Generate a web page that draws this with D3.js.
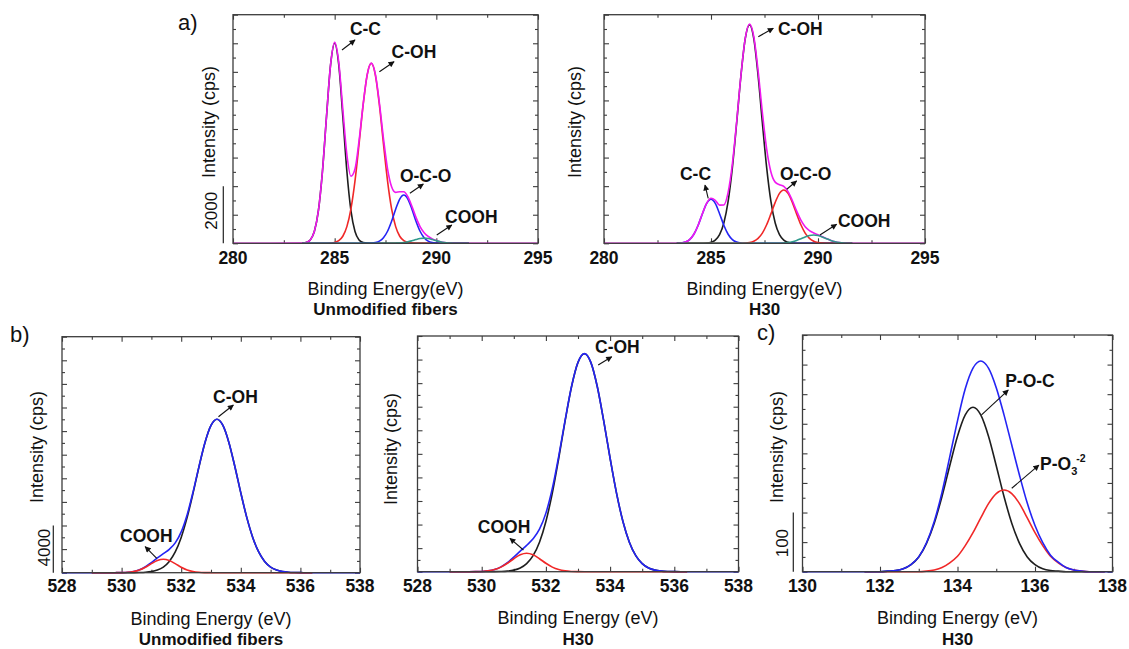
<!DOCTYPE html>
<html><head><meta charset="utf-8">
<script src="https://cdn.jsdelivr.net/npm/d3@7"></script>
<style>
body{margin:0;background:#fff}
svg{display:block}
text{font-family:"Liberation Sans",Arial,Helvetica,sans-serif;fill:#111}
</style>
</head><body>
<svg id="chart" width="1129" height="649"></svg>
<script>
// ---------------- DATA ----------------
// C1s, energy grid (eV)
const c1sEnergy = [283.4,283.6,283.8,284.0,284.2,284.4,284.6,284.8,285.0,285.2,285.4,285.6,285.8,286.0,286.2,286.4,286.6,286.8,287.0,287.2,287.4,287.6,287.8,288.0,288.2,288.4,288.6,288.8,289.0,289.2,289.4,289.6,289.8,290.0,290.2,290.4,290.6,290.8,291.0,291.2,291.4,291.6];
// C1s, unmodified fibers (cps)
const unmodC1sCC   = [5,27,118,412,1141,2523,4448,6250,7000,6250,4448,2523,1141,412,118,27,5,0,0,0,0,0,0,0,0,0,0,0,0,0,0,0,0,0,0,0,0,0,0,0,0,0];
const unmodC1sCOH  = [0,0,0,0,0,0,2,9,30,92,247,584,1206,2187,3475,4836,5897,6300,5897,4836,3475,2187,1206,584,247,92,30,9,2,0,0,0,0,0,0,0,0,0,0,0,0,0];
const unmodC1sOCO  = [0,0,0,0,0,0,0,0,0,0,0,0,0,0,0,0,1,7,24,74,193,421,774,1194,1549,1690,1549,1194,774,421,193,74,24,7,1,0,0,0,0,0,0,0];
const unmodC1sCOOH = [0,0,0,0,0,0,0,0,0,0,0,0,0,0,0,0,0,0,0,0,0,0,1,4,10,24,50,88,131,166,180,166,131,88,50,24,10,4,1,0,0,0];
const unmodC1sEnv  = [5,27,118,412,1141,2523,4450,6259,7030,6342,4695,3107,2347,2599,3593,4863,5903,6307,5921,4910,3668,2608,1981,1782,1806,1806,1629,1291,907,587,373,240,155,95,51,24,10,4,1,0,0,0];
// C1s, H30 (cps)
const h30C1sCC   = [3,12,44,130,317,633,1037,1395,1540,1395,1037,633,317,130,44,12,3,0,0,0,0,0,0,0,0,0,0,0,0,0,0,0,0,0,0,0,0,0,0,0,0,0];
const h30C1sCOH  = [0,0,0,0,0,0,3,10,36,111,300,708,1465,2656,4220,5872,7160,7650,7160,5872,4220,2656,1465,708,300,111,36,10,3,0,0,0,0,0,0,0,0,0,0,0,0,0];
const h30C1sOCO  = [0,0,0,0,0,0,0,0,0,0,0,0,0,0,0,3,9,27,73,173,357,648,1029,1432,1747,1866,1747,1432,1029,648,357,173,73,27,9,3,0,0,0,0,0,0];
const h30C1sCOOH = [0,0,0,0,0,0,0,0,0,0,0,0,0,0,0,0,0,0,0,0,0,0,0,1,4,11,27,56,101,160,223,271,290,271,223,160,101,56,27,11,4,1];
const h30C1sEnv  = [3,12,44,130,317,633,1040,1405,1576,1506,1337,1341,1782,2786,4264,5887,7172,7677,7233,6045,4577,3304,2494,2141,2051,1988,1810,1498,1133,808,580,444,363,298,232,163,101,56,27,11,4,1];

// O1s, energy grid (eV)
const o1sEnergy = [529.0,529.2,529.4,529.6,529.8,530.0,530.2,530.4,530.6,530.8,531.0,531.2,531.4,531.6,531.8,532.0,532.2,532.4,532.6,532.8,533.0,533.2,533.4,533.6,533.8,534.0,534.2,534.4,534.6,534.8,535.0,535.2,535.4,535.6,535.8,536.0,536.2,536.4];
const unmodO1sCOH  = [0,0,0,0,0,0,1,4,13,36,93,220,477,954,1759,2991,4685,6765,9004,11041,12480,13000,12480,11041,9004,6765,4685,2991,1759,954,477,220,93,36,13,4,1,0];
const unmodO1sCOOH = [0,0,0,0,2,9,32,96,234,467,765,1028,1135,1028,765,467,234,96,32,9,2,0,0,0,0,0,0,0,0,0,0,0,0,0,0,0,0,0];
const unmodO1sEnv  = [0,0,0,0,2,9,33,100,247,503,858,1248,1612,1982,2524,3458,4919,6861,9036,11050,12482,13000,12480,11041,9004,6765,4685,2991,1759,954,477,220,93,36,13,4,1,0];
const h30O1sCOH  = [0,0,0,0,0,0,2,6,19,52,132,313,679,1358,2503,4257,6667,9627,12813,15712,17760,18500,17760,15712,12813,9627,6667,4257,2503,1358,679,313,132,52,19,6,2,0];
const h30O1sCOOH = [0,0,0,1,6,22,68,178,389,714,1102,1430,1560,1430,1102,714,389,178,68,22,6,1,0,0,0,0,0,0,0,0,0,0,0,0,0,0,0,0];
const h30O1sEnv  = [0,0,0,1,6,22,70,184,408,766,1234,1743,2239,2788,3605,4971,7056,9805,12881,15734,17766,18501,17760,15712,12813,9627,6667,4257,2503,1358,679,313,132,52,19,6,2,0];

// P2p, H30
const p2pEnergy = [131.6,131.8,132.0,132.2,132.4,132.6,132.8,133.0,133.2,133.4,133.6,133.8,134.0,134.2,134.4,134.6,134.8,135.0,135.2,135.4,135.6,135.8,136.0,136.2,136.4,136.6,136.8,137.0,137.2,137.4,137.6,137.8];
const h30P2pPOC = [0,0,0,1,2,5,12,25,48,82,127,179,229,265,278,265,229,179,127,82,48,25,12,5,2,1,0,0,0,0,0,0];
const h30P2pPO3 = [0,0,0,0,0,0,0,0,1,3,7,15,26,44,66,91,115,132,138,132,115,91,66,44,26,15,7,3,1,0,0,0];
const h30P2pEnv = [0,0,0,1,2,5,12,25,49,85,134,194,255,309,344,356,344,311,265,214,163,116,78,49,28,16,7,3,1,0,0,0];

// Axis domains and ticks
const c1sDomain = [280, 295], c1sYDomain = [0, 8000];
const c1sMajorX = [280, 285, 290, 295], c1sMinorX = [282.5, 287.5, 292.5];
const c1sMajorY = [0,1000,2000,3000,4000,5000,6000,7000,8000], c1sMinorY = [500,1500,2500,3500,4500,5500,6500,7500];
const o1sDomain = [528, 538], o1sYDomain = [0, 20000];
const o1sMajorX = [528, 530, 532, 534, 536, 538], o1sMinorX = [529, 531, 533, 535, 537];
const o1sMajorY = [0,2000,4000,6000,8000,10000,12000,14000,16000,18000,20000], o1sMinorY = [1000,3000,5000,7000,9000,11000,13000,15000,17000,19000];
const p2pDomain = [130, 138], p2pYDomain = [0, 400];
const p2pMajorX = [130, 132, 134, 136, 138], p2pMinorX = [131, 133, 135, 137];
const p2pMajorY = [0,50,100,150,200,250,300,350,400], p2pMinorY = [25,75,125,175,225,275,325,375];

// Scale bars (cps)
const scaleBarC1s = 2000, scaleBarO1s = 4000, scaleBarP2p = 100;

// ---------------- DRAWING ----------------
const svg = d3.select("#chart");
const COL = {mag:"#f018f0", red:"#f02828", blue:"#2424f4", black:"#1e1e1e", teal:"#2f9a8c", frame:"#3c3c3c"};

const defs = svg.append("defs");
defs.append("marker").attr("id","arr").attr("viewBox","0 0 10 10").attr("refX",9).attr("refY",5)
  .attr("markerWidth",7).attr("markerHeight",6).attr("markerUnits","userSpaceOnUse").attr("orient","auto")
  .append("path").attr("d","M0,0L10,5L0,10z").attr("fill","#111");

function panel(cfg) {
  const x = d3.scaleLinear().domain(cfg.xDomain).range([cfg.left, cfg.right]);
  const y = d3.scaleLinear().domain(cfg.yDomain).range([cfg.bottom, cfg.top]);
  const g = svg.append("g");
  const W = cfg.right - cfg.left, H = cfg.bottom - cfg.top;

  const tick = (axis, vals, size, tr) => {
    g.append("g").attr("transform", tr)
      .call(axis.tickValues(vals).tickSize(size).tickFormat(""))
      .call(s => s.select(".domain").remove())
      .call(s => s.selectAll("line").attr("stroke", COL.frame).attr("stroke-width", 1.1));
  };
  tick(d3.axisBottom(x), cfg.majorX, -5, `translate(0,${cfg.bottom})`);
  tick(d3.axisBottom(x), cfg.minorX, -3, `translate(0,${cfg.bottom})`);
  tick(d3.axisTop(x), cfg.majorX, -5, `translate(0,${cfg.top})`);
  tick(d3.axisTop(x), cfg.minorX, -3, `translate(0,${cfg.top})`);
  tick(d3.axisLeft(y), cfg.majorY, -5, `translate(${cfg.left},0)`);
  tick(d3.axisLeft(y), cfg.minorY, -3, `translate(${cfg.left},0)`);
  tick(d3.axisRight(y), cfg.majorY, -5, `translate(${cfg.right},0)`);
  tick(d3.axisRight(y), cfg.minorY, -3, `translate(${cfg.right},0)`);

  // curves
  const line = d3.line().x(d => x(d[0])).y(d => y(d[1])).curve(d3.curveMonotoneX);
  cfg.series.forEach(s => {
    let pts = cfg.energy.map((e, i) => [e, s.values[i]]);
    if (s.full) pts = [[cfg.xDomain[0], 0], ...pts, [cfg.xDomain[1], 0]];
    g.append("path").datum(pts).attr("d", line).attr("fill", "none")
      .attr("stroke", s.color).attr("stroke-width", 1.6).attr("stroke-linejoin", "round");
  });

  // frame
  g.append("rect").attr("x", cfg.left).attr("y", cfg.top).attr("width", W).attr("height", H)
    .attr("fill", "none").attr("stroke", COL.frame).attr("stroke-width", 1.3);

  // tick labels
  g.selectAll(".tl").data(cfg.majorX).join("text")
    .attr("x", d => x(d)).attr("y", cfg.bottom + cfg.tickOff)
    .attr("text-anchor", "middle").attr("font-size", 17.5).attr("font-weight", "bold").text(d => d);

  // axis titles
  g.append("text").attr("x", (cfg.left + cfg.right) / 2).attr("y", cfg.bottom + cfg.titleOff)
    .attr("text-anchor", "middle").attr("font-size", 18).attr("fill", "#222").text(cfg.xTitle);
  g.append("text").attr("x", (cfg.left + cfg.right) / 2).attr("y", cfg.bottom + cfg.subOff)
    .attr("text-anchor", "middle").attr("font-size", 17).attr("font-weight", "bold").text(cfg.sub);
  g.append("text").attr("transform", `translate(${cfg.left - cfg.yTitleDx},${cfg.yTitleCy}) rotate(-90)`)
    .attr("text-anchor", "middle").attr("font-size", 18).attr("fill", "#222").text("Intensity (cps)");

  // scale bar
  if (cfg.bar) {
    const bx = cfg.left - cfg.bar.dx;
    g.append("line").attr("x1", bx).attr("x2", bx).attr("y1", y(0)).attr("y2", y(cfg.bar.value))
      .attr("stroke", "#222").attr("stroke-width", 1.2);
    const cy = (y(0) + y(cfg.bar.value)) / 2 + cfg.bar.cyOff;
    g.append("text").attr("transform", `translate(${cfg.left - cfg.bar.tdx},${cy}) rotate(-90)`)
      .attr("text-anchor", "middle").attr("font-size", 17).attr("fill", "#222").text(cfg.bar.value);
  }

  // panel letter
  if (cfg.letter) {
    g.append("text").attr("x", cfg.letter[1]).attr("y", cfg.letter[2]).attr("font-size", 22)
      .attr("fill", "#222").text(cfg.letter[0]);
  }

  // annotations
  cfg.notes.forEach(n => {
    g.append("line").attr("x1", x(n.from[0])).attr("y1", y(n.from[1]))
      .attr("x2", x(n.to[0])).attr("y2", y(n.to[1]))
      .attr("stroke", "#111").attr("stroke-width", 1.1).attr("marker-end", "url(#arr)");
    const t = g.append("text").attr("x", x(n.at[0])).attr("y", y(n.at[1]))
      .attr("font-size", 17.5).attr("font-weight", "bold");
    if (n.sub) {
      t.append("tspan").text(n.label);
      t.append("tspan").attr("font-size", 11).attr("dy", 5).text(n.sub);
      t.append("tspan").attr("font-size", 10.5).attr("dy", -13).attr("dx", -1).text(n.sup);
    } else t.text(n.label);
  });
}

// Panel a) Unmodified fibers, C1s
panel({
  left: 233, right: 538, top: 14.7, bottom: 243.3,
  xDomain: c1sDomain, yDomain: c1sYDomain, majorX: c1sMajorX, minorX: c1sMinorX, majorY: c1sMajorY, minorY: c1sMinorY,
  energy: c1sEnergy,
  series: [
    {values: unmodC1sCC, color: COL.black},
    {values: unmodC1sCOH, color: COL.red},
    {values: unmodC1sOCO, color: COL.blue},
    {values: unmodC1sEnv, color: COL.mag, full: true},
    {values: unmodC1sCOOH, color: COL.teal}
  ],
  tickOff: 20.3, titleOff: 51.7, subOff: 71.7, xTitle: "Binding Energy(eV)", sub: "Unmodified fibers",
  yTitleDx: 18.3, yTitleCy: 122,
  bar: {value: scaleBarC1s, dx: 9.7, tdx: 16, cyOff: -4},
  letter: ["a)", 178, 30],
  notes: [
    {label: "C-C", at: [285.75, 7290], from: [285.36, 6765], to: [286.0, 7115]},
    {label: "C-OH", at: [287.8, 6484], from: [287.2, 6005], to: [287.92, 6355]},
    {label: "O-C-O", at: [288.21, 2145], from: [288.7, 1750], to: [289.36, 2075]},
    {label: "COOH", at: [290.43, 710], from: [290.02, 290], to: [290.76, 640]}
  ]
});

// Panel a) H30, C1s
panel({
  left: 604, right: 925, top: 14.7, bottom: 243.3,
  xDomain: c1sDomain, yDomain: c1sYDomain, majorX: c1sMajorX, minorX: c1sMinorX, majorY: c1sMajorY, minorY: c1sMinorY,
  energy: c1sEnergy,
  series: [
    {values: h30C1sCOH, color: COL.black},
    {values: h30C1sCC, color: COL.blue},
    {values: h30C1sOCO, color: COL.red},
    {values: h30C1sEnv, color: COL.mag, full: true},
    {values: h30C1sCOOH, color: COL.teal}
  ],
  tickOff: 20.3, titleOff: 51.7, subOff: 71.7, xTitle: "Binding Energy(eV)", sub: "H30",
  yTitleDx: 23, yTitleCy: 122,
  notes: [
    {label: "C-OH", at: [288.13, 7290], from: [287.21, 7230], to: [287.91, 7524]},
    {label: "C-C", at: [283.55, 2215], from: [284.87, 1575], to: [284.72, 2040]},
    {label: "O-C-O", at: [288.22, 2215], from: [288.54, 1890], to: [289.0, 2180]},
    {label: "COOH", at: [290.93, 570], from: [290.09, 290], to: [290.87, 665]}
  ]
});

// Panel b) Unmodified fibers, O1s
panel({
  left: 62, right: 360, top: 336.7, bottom: 572.7,
  xDomain: o1sDomain, yDomain: o1sYDomain, majorX: o1sMajorX, minorX: o1sMinorX, majorY: o1sMajorY, minorY: o1sMinorY,
  energy: o1sEnergy,
  series: [
    {values: unmodO1sCOH, color: COL.black},
    {values: unmodO1sEnv, color: COL.blue, full: true},
    {values: unmodO1sCOOH, color: COL.red}
  ],
  tickOff: 19.5, titleOff: 52.3, subOff: 72.3, xTitle: "Binding Energy (eV)", sub: "Unmodified fibers",
  yTitleDx: 19, yTitleCy: 447,
  bar: {value: scaleBarO1s, dx: 8.7, tdx: 12.5, cyOff: -1.5},
  letter: ["b)", 10, 342],
  notes: [
    {label: "C-OH", at: [533.07, 14381], from: [533.25, 13220], to: [533.75, 14212]},
    {label: "COOH", at: [529.95, 2602], from: [531.18, 1220], to: [530.79, 2203]}
  ]
});

// Panel b) H30, O1s
panel({
  left: 417.5, right: 738.5, top: 336, bottom: 571.7,
  xDomain: o1sDomain, yDomain: o1sYDomain, majorX: o1sMajorX, minorX: o1sMinorX, majorY: o1sMajorY, minorY: o1sMinorY,
  energy: o1sEnergy,
  series: [
    {values: h30O1sCOH, color: COL.black},
    {values: h30O1sEnv, color: COL.blue, full: true},
    {values: h30O1sCOOH, color: COL.red}
  ],
  tickOff: 19.8, titleOff: 52.6, subOff: 73, xTitle: "Binding Energy (eV)", sub: "H30",
  yTitleDx: 21, yTitleCy: 449,
  notes: [
    {label: "C-OH", at: [533.53, 18557], from: [533.63, 17539], to: [534.05, 18243]},
    {label: "COOH", at: [529.88, 3284], from: [531.30, 1841], to: [530.88, 2834]}
  ]
});

// Panel c) H30, P2p
panel({
  left: 802.5, right: 1112.5, top: 335, bottom: 571.7,
  xDomain: p2pDomain, yDomain: p2pYDomain, majorX: p2pMajorX, minorX: p2pMinorX, majorY: p2pMajorY, minorY: p2pMinorY,
  energy: p2pEnergy,
  series: [
    {values: h30P2pPOC, color: COL.black},
    {values: h30P2pPO3, color: COL.red},
    {values: h30P2pEnv, color: COL.blue, full: true}
  ],
  tickOff: 19.8, titleOff: 52.6, subOff: 73, xTitle: "Binding Energy (eV)", sub: "H30",
  yTitleDx: 19.5, yTitleCy: 447,
  bar: {value: scaleBarP2p, dx: 9.2, tdx: 14.5, cyOff: 1},
  letter: ["c)", 757, 340],
  notes: [
    {label: "P-O-C", at: [135.23, 312], from: [134.62, 265], to: [135.31, 307]},
    {label: "P-O", sub: "3", sup: "-2", at: [136.13, 172], from: [135.40, 141], to: [136.1, 180]}
  ]
});
</script>
</body></html>
